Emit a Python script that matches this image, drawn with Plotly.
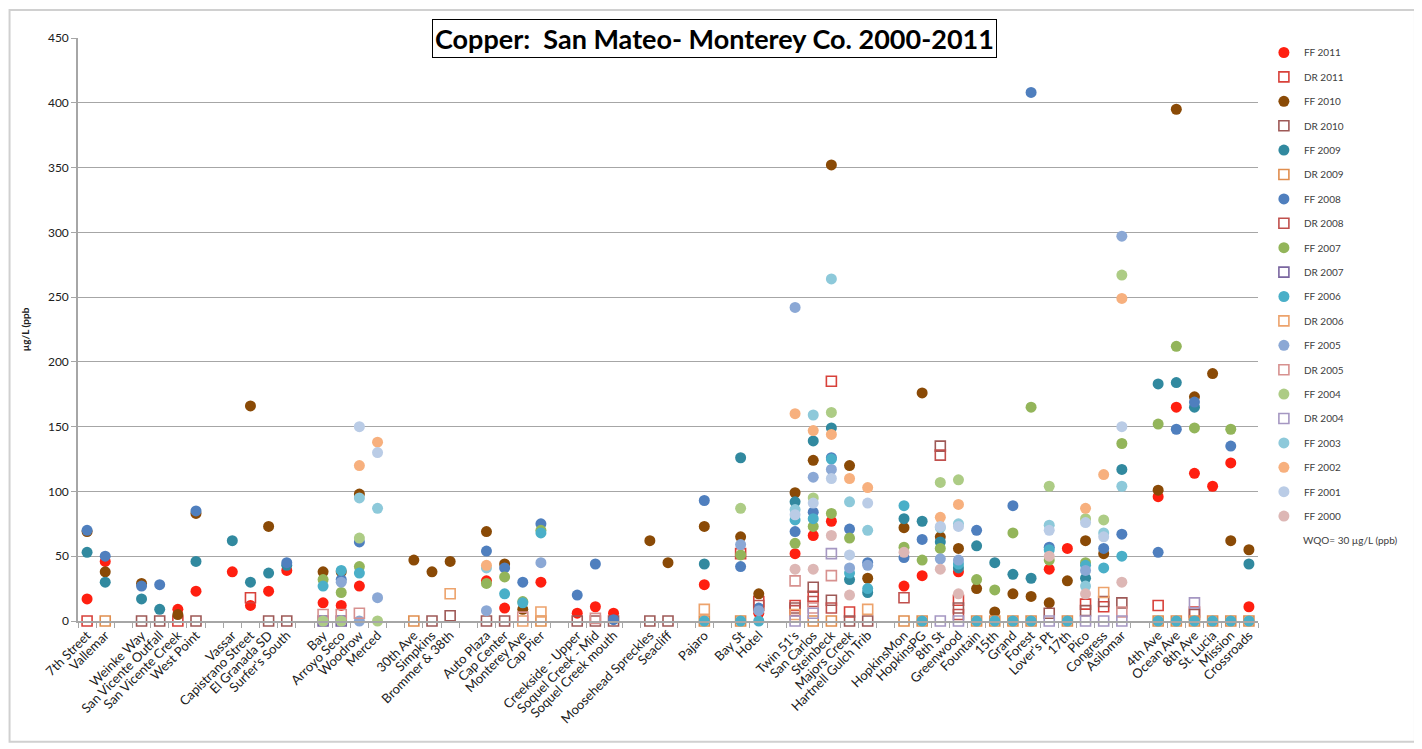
import plotly.graph_objects as go

# Sampling sites, left to right; an empty slot is left between each group
site_groups = [
    ["7th Street", "Vallemar"],
    ["Weinke Way", "San Vicente Outfall", "San Vicente Creek", "West Point"],
    ["Vassar", "Capistrano Street", "El Granada SD", "Surfer's South"],
    ["Bay", "Arroyo Seco", "Woodrow", "Merced"],
    ["30th Ave", "Simpkins", "Brommer & 38th"],
    ["Auto Plaza", "Cap Center", "Monterey Ave", "Cap Pier"],
    ["Creekside - Upper", "Soquel Creek - Mid", "Soquel Creek mouth"],
    ["Moosehead Spreckles", "Seacliff"],
    ["Pajaro"],
    ["Bay St", "Hotel"],
    ["Twin 51's", "San Carlos", "Steinbeck", "Majors Creek", "Hartnell Gulch Trib"],
    ["HopkinsMon", "HopkinsPG", "8th St", "Greenwood", "Fountain", "15th", "Grand",
     "Forest", "Lover's Pt", "17th", "Pico", "Congress", "Asilomar"],
    ["4th Ave", "Ocean Ave", "8th Ave", "St. Lucia", "Mission", "Crossroads"],
]

# Copper (ug/L) by site, first flush (FF) and dry run (DR) samples
ff2011 = {"7th Street": 17, "Vallemar": 46, "San Vicente Creek": 9, "West Point": 23, "Vassar": 38,
          "Capistrano Street": 12, "El Granada SD": 23, "Surfer's South": 39, "Bay": 14, "Arroyo Seco": 12,
          "Woodrow": 27, "Auto Plaza": 31, "Cap Center": 10, "Cap Pier": 30, "Creekside - Upper": 6,
          "Soquel Creek - Mid": 11, "Soquel Creek mouth": 6, "Pajaro": 28, "Hotel": 6, "Twin 51's": 52,
          "San Carlos": 66, "Steinbeck": 77, "HopkinsMon": 27, "HopkinsPG": 35, "Greenwood": 38,
          "Lover's Pt": 40, "17th": 56, "4th Ave": 96, "Ocean Ave": 165, "8th Ave": 114, "St. Lucia": 104,
          "Mission": 122, "Crossroads": 11}
dr2011 = {"7th Street": 0, "San Vicente Creek": 0, "Capistrano Street": 18, "Bay St": 52, "Hotel": 15,
          "Twin 51's": 12, "San Carlos": 19, "Steinbeck": 185, "Majors Creek": 7, "Greenwood": 16,
          "Pico": 13, "Congress": 11, "4th Ave": 12, "8th Ave": 7}
ff2010 = {"7th Street": 69, "Vallemar": 38, "Weinke Way": 29, "San Vicente Creek": 5, "West Point": 83,
          "Capistrano Street": 166, "El Granada SD": 73, "Bay": 38, "Arroyo Seco": 38, "Woodrow": 98,
          "30th Ave": 47, "Simpkins": 38, "Brommer & 38th": 46, "Auto Plaza": 69, "Cap Center": 44,
          "Monterey Ave": 9, "Moosehead Spreckles": 62, "Seacliff": 45, "Pajaro": 73, "Bay St": 65,
          "Hotel": 21, "Twin 51's": 99, "San Carlos": 124, "Steinbeck": 352, "Majors Creek": 120,
          "Hartnell Gulch Trib": 33, "HopkinsMon": 72, "HopkinsPG": 176, "8th St": 65, "Greenwood": 56,
          "Fountain": 25, "15th": 7, "Grand": 21, "Forest": 19, "Lover's Pt": 14, "17th": 31, "Pico": 62,
          "Congress": 52, "4th Ave": 101, "Ocean Ave": 395, "8th Ave": 173, "St. Lucia": 191,
          "Mission": 62, "Crossroads": 55}
dr2010 = {"Weinke Way": 0, "San Vicente Outfall": 0, "West Point": 0, "El Granada SD": 0,
          "Surfer's South": 0, "Simpkins": 0, "Brommer & 38th": 4, "Auto Plaza": 0, "Cap Center": 0,
          "Creekside - Upper": 0, "Soquel Creek - Mid": 0, "Soquel Creek mouth": 0,
          "Moosehead Spreckles": 0, "Seacliff": 0, "Twin 51's": 10, "San Carlos": 26, "Steinbeck": 16,
          "Majors Creek": 0, "Hartnell Gulch Trib": 0, "8th St": 135, "Greenwood": 10, "Lover's Pt": 6,
          "Pico": 8, "Congress": 15, "Asilomar": 14, "8th Ave": 5}
ff2009 = {"7th Street": 53, "Vallemar": 30, "Weinke Way": 17, "San Vicente Outfall": 9, "West Point": 46,
          "Vassar": 62, "Capistrano Street": 30, "El Granada SD": 37, "Surfer's South": 43, "Pajaro": 44,
          "Bay St": 126, "Twin 51's": 92, "San Carlos": 139, "Steinbeck": 149, "Majors Creek": 32,
          "Hartnell Gulch Trib": 22, "HopkinsMon": 79, "HopkinsPG": 77, "8th St": 61, "Greenwood": 41,
          "Fountain": 58, "15th": 45, "Grand": 36, "Forest": 33, "Pico": 33, "Asilomar": 117,
          "4th Ave": 183, "Ocean Ave": 184, "8th Ave": 165, "Crossroads": 44}
dr2009 = {"Vallemar": 0, "30th Ave": 0, "Cap Pier": 0, "Pajaro": 0, "Bay St": 0, "San Carlos": 0,
          "Steinbeck": 0, "HopkinsMon": 0, "HopkinsPG": 0, "Fountain": 0, "15th": 0, "Grand": 0,
          "Forest": 0, "17th": 0, "4th Ave": 0, "Ocean Ave": 0, "8th Ave": 0, "St. Lucia": 0,
          "Mission": 0, "Crossroads": 0}
ff2008 = {"7th Street": 70, "Vallemar": 50, "Weinke Way": 27, "San Vicente Outfall": 28, "West Point": 85,
          "Surfer's South": 45, "Arroyo Seco": 32, "Woodrow": 61, "Auto Plaza": 54, "Cap Center": 41,
          "Monterey Ave": 30, "Cap Pier": 75, "Creekside - Upper": 20, "Soquel Creek - Mid": 44,
          "Soquel Creek mouth": 1, "Pajaro": 93, "Bay St": 42, "Hotel": 10, "Twin 51's": 69,
          "San Carlos": 84, "Steinbeck": 126, "Majors Creek": 71, "Hartnell Gulch Trib": 45,
          "HopkinsMon": 49, "HopkinsPG": 63, "Fountain": 70, "Grand": 89, "Forest": 408, "Lover's Pt": 57,
          "Congress": 56, "Asilomar": 67, "4th Ave": 53, "Ocean Ave": 148, "8th Ave": 169, "Mission": 135}
dr2008 = {"Hotel": 12, "Twin 51's": 8, "San Carlos": 15, "Steinbeck": 10, "HopkinsMon": 18,
          "8th St": 128, "Greenwood": 5}
ff2007 = {"Bay": 32, "Arroyo Seco": 22, "Woodrow": 42, "Auto Plaza": 29, "Cap Center": 34,
          "Monterey Ave": 15, "Cap Pier": 70, "Bay St": 51, "Twin 51's": 60, "San Carlos": 73,
          "Steinbeck": 83, "Majors Creek": 64, "HopkinsMon": 57, "HopkinsPG": 47, "8th St": 56,
          "Fountain": 32, "15th": 24, "Grand": 68, "Forest": 165, "Lover's Pt": 47, "Pico": 45,
          "Asilomar": 137, "4th Ave": 152, "Ocean Ave": 212, "8th Ave": 149, "Mission": 148}
dr2007 = {"Bay": 0, "Arroyo Seco": 0}
ff2006 = {"Bay": 27, "Arroyo Seco": 39, "Woodrow": 37, "Cap Center": 21, "Monterey Ave": 14,
          "Cap Pier": 68, "Pajaro": 0, "Bay St": 0, "Hotel": 0, "Twin 51's": 78, "San Carlos": 79,
          "Steinbeck": 125, "Majors Creek": 37, "Hartnell Gulch Trib": 25, "HopkinsMon": 89,
          "HopkinsPG": 0, "Greenwood": 44, "Fountain": 0, "15th": 0, "Grand": 0, "Forest": 0,
          "Lover's Pt": 55, "17th": 0, "Pico": 43, "Congress": 41, "Asilomar": 50, "4th Ave": 0,
          "Ocean Ave": 0, "8th Ave": 0, "St. Lucia": 0, "Mission": 0, "Crossroads": 0}
dr2006 = {"Brommer & 38th": 21, "Monterey Ave": 0, "Cap Pier": 7, "Pajaro": 9, "Twin 51's": 5,
          "Hartnell Gulch Trib": 9, "Congress": 22}
ff2005 = {"Arroyo Seco": 30, "Woodrow": 0, "Merced": 18, "Auto Plaza": 8, "Cap Pier": 45, "Bay St": 59,
          "Hotel": 8, "Twin 51's": 242, "San Carlos": 111, "Steinbeck": 117, "Majors Creek": 41,
          "Hartnell Gulch Trib": 43, "8th St": 48, "Greenwood": 47, "Pico": 39, "Asilomar": 297}
dr2005 = {"Bay": 5, "Arroyo Seco": 5, "Woodrow": 6, "Monterey Ave": 3, "Soquel Creek - Mid": 2,
          "Twin 51's": 31, "San Carlos": 10, "Steinbeck": 35, "Asilomar": 7}
ff2004 = {"Bay": 0, "Arroyo Seco": 0, "Woodrow": 64, "Merced": 0, "Bay St": 87, "San Carlos": 95,
          "Steinbeck": 161, "8th St": 107, "Greenwood": 109, "Lover's Pt": 104, "Pico": 79,
          "Congress": 78, "Asilomar": 267}
dr2004 = {"Twin 51's": 0, "San Carlos": 6, "Steinbeck": 52, "8th St": 0, "Greenwood": 0,
          "Lover's Pt": 0, "Pico": 0, "Congress": 0, "Asilomar": 0, "8th Ave": 14}
ff2003 = {"Woodrow": 95, "Merced": 87, "Auto Plaza": 41, "Twin 51's": 86, "San Carlos": 159,
          "Steinbeck": 264, "Majors Creek": 92, "Hartnell Gulch Trib": 70, "8th St": 72, "Greenwood": 75,
          "Lover's Pt": 74, "Pico": 27, "Congress": 68, "Asilomar": 104}
ff2002 = {"Woodrow": 120, "Merced": 138, "Auto Plaza": 43, "Twin 51's": 160, "San Carlos": 147,
          "Steinbeck": 144, "Majors Creek": 110, "Hartnell Gulch Trib": 103, "8th St": 80,
          "Greenwood": 90, "Pico": 87, "Congress": 113, "Asilomar": 249}
ff2001 = {"Woodrow": 150, "Merced": 130, "Twin 51's": 82, "San Carlos": 91, "Steinbeck": 110,
          "Majors Creek": 51, "Hartnell Gulch Trib": 91, "8th St": 73, "Greenwood": 73, "Lover's Pt": 70,
          "Pico": 76, "Congress": 65, "Asilomar": 150}
ff2000 = {"Twin 51's": 40, "San Carlos": 40, "Steinbeck": 66, "Majors Creek": 20, "HopkinsMon": 53,
          "8th St": 40, "Greenwood": 21, "Lover's Pt": 50, "Pico": 21, "Asilomar": 30}

# Category axis with an empty slot between groups
categories = []
for i, group in enumerate(site_groups):
    categories += group
    if i < len(site_groups) - 1:
        categories.append(" " * (i + 1))

series = [
    ("FF 2011", ff2011, "#FF1F10", "circle"),
    ("DR 2011", dr2011, "#D8413A", "square-open"),
    ("FF 2010", ff2010, "#8A4A06", "circle"),
    ("DR 2010", dr2010, "#9E5957", "square-open"),
    ("FF 2009", ff2009, "#31899F", "circle"),
    ("DR 2009", dr2009, "#E08E4F", "square-open"),
    ("FF 2008", ff2008, "#4F7FBE", "circle"),
    ("DR 2008", dr2008, "#C0504D", "square-open"),
    ("FF 2007", ff2007, "#93B55A", "circle"),
    ("DR 2007", dr2007, "#7A66A0", "square-open"),
    ("FF 2006", ff2006, "#4AAFC8", "circle"),
    ("DR 2006", dr2006, "#EDA36C", "square-open"),
    ("FF 2005", ff2005, "#8BA8D5", "circle"),
    ("DR 2005", dr2005, "#D7918F", "square-open"),
    ("FF 2004", ff2004, "#ADCC85", "circle"),
    ("DR 2004", dr2004, "#A597C2", "square-open"),
    ("FF 2003", ff2003, "#8DC9DA", "circle"),
    ("FF 2002", ff2002, "#F7B07E", "circle"),
    ("FF 2001", ff2001, "#BACCE6", "circle"),
    ("FF 2000", ff2000, "#DDB7B5", "circle"),
]

fig = go.Figure()

# invisible trace so the empty slots exist on the category axis
fig.add_trace(go.Scatter(x=categories, y=[None] * len(categories), mode="markers",
                         showlegend=False, hoverinfo="skip"))

for i, (name, values, color, symbol) in enumerate(series):
    if symbol == "circle":
        marker = dict(symbol="circle", size=11, color=color, line=dict(width=0))
    else:
        marker = dict(symbol="square-open", size=10, color=color, line=dict(width=1.6, color=color))
    fig.add_trace(
        go.Scatter(
            x=list(values.keys()),
            y=list(values.values()),
            name=name,
            mode="markers",
            marker=marker,
            legendgroup=str(i),
            cliponaxis=False,
        )
    )

# page body adds an 8px offset, so the figure is a little smaller than the window
fig.update_layout(
    width=1414,
    height=741,
    margin=dict(l=70, r=164, t=30, b=128),
    plot_bgcolor="white",
    paper_bgcolor="white",
    font=dict(family="Lato, Open Sans, sans-serif", size=12, color="#404040"),
    xaxis=dict(
        type="category",
        categoryorder="array",
        categoryarray=categories,
        range=[-0.5, len(categories) - 0.5],
        tickangle=-45,
        tickson="boundaries",
        ticks="outside",
        ticklen=5,
        tickcolor="#A6A6A6",
        showline=True,
        linecolor="#A6A6A6",
        linewidth=1.5,
        showgrid=False,
        tickfont=dict(size=13, color="#202020"),
    ),
    yaxis=dict(
        range=[0, 450],
        dtick=50,
        showgrid=True,
        gridcolor="#A6A6A6",
        gridwidth=1,
        showline=True,
        linecolor="#A6A6A6",
        linewidth=1.5,
        ticks="outside",
        ticklen=5,
        tickcolor="#A6A6A6",
        zeroline=False,
        tickfont=dict(size=12, color="#202020"),
        title=dict(text="<b>µg/L (ppb</b>", font=dict(size=10, color="#202020"), standoff=16),
    ),
    legend=dict(
        x=1.005,
        y=1.0,
        xanchor="left",
        yanchor="top",
        traceorder="grouped",
        tracegroupgap=5.4,
        font=dict(size=10, color="#404040"),
        itemwidth=30,
        bgcolor="rgba(0,0,0,0)",
    ),
    annotations=[
        dict(
            text="<b>Copper:  San Mateo- Monterey Co. 2000-2011</b>",
            xref="paper", yref="paper", x=0.539, y=1.0,
            xanchor="center", yanchor="middle", showarrow=False,
            font=dict(size=27, color="black", family="Lato, sans-serif"),
            bordercolor="black", borderwidth=1, borderpad=2, bgcolor="white",
        ),
        dict(
            text="WQO= 30 µg/L (ppb)",
            xref="paper", yref="paper", x=1.078, y=0.139,
            xanchor="center", yanchor="middle", showarrow=False,
            font=dict(size=10, color="#404040"),
        ),
    ],
    shapes=[
        dict(type="rect", xref="paper", yref="paper", x0=-0.058, x1=1.133, y0=-0.207, y1=1.048,
             line=dict(color="#D0D0D0", width=2), layer="below"),
    ],
)

fig.write_html("out.html")
